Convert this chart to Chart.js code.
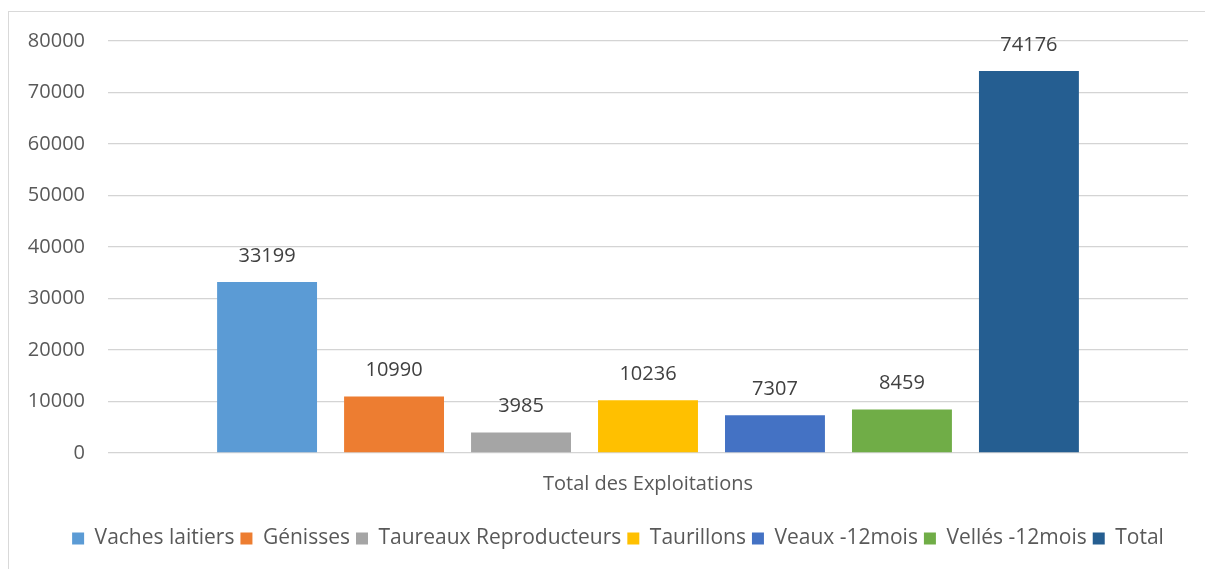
<!DOCTYPE html>
<html>
<head>
<meta charset="utf-8">
<script src="https://cdn.jsdelivr.net/npm/chart.js@4.4.1/dist/chart.umd.min.js"></script>
<style>
  body { margin: 0; background: #fff; }
  #wrap { position: relative; width: 1205px; height: 569px; overflow: hidden; }
  #frame { position: absolute; left: 8px; top: 11px; width: 1300px; height: 700px;
           border-left: 1px solid #d9d9d9; border-top: 1px solid #d9d9d9; pointer-events: none; }
  canvas { position: absolute; left: 0; top: 0; }
</style>
</head>
<body>
<div id="wrap">
  <canvas id="chart" width="1205" height="569"></canvas>
  <div id="frame"></div>
</div>
<script>
const categories = ['Total des Exploitations'];
const seriesNames = ['Vaches laitiers', 'Génisses', 'Taureaux Reproducteurs', 'Taurillons', 'Veaux -12mois', 'Vellés -12mois', 'Total'];
const seriesValues = [33199, 10990, 3985, 10236, 7307, 8459, 74176];
const seriesColors = ['#5b9bd5', '#ed7d31', '#a5a5a5', '#ffc000', '#4472c4', '#70ad47', '#255e91'];
const yTicks = [0, 10000, 20000, 30000, 40000, 50000, 60000, 70000, 80000];

const fontFamily = '"Open Sans", sans-serif';

// draws the value above each bar
const valueLabels = {
  id: 'valueLabels',
  afterDatasetsDraw(chart) {
    const ctx = chart.ctx;
    ctx.save();
    ctx.font = '20px ' + fontFamily;
    ctx.fillStyle = '#404040';
    ctx.textAlign = 'center';
    ctx.textBaseline = 'middle';
    chart.data.datasets.forEach((ds, i) => {
      chart.getDatasetMeta(i).data.forEach((bar, j) => {
        ctx.fillText(String(ds.data[j]), bar.x, bar.y - 26);
      });
    });
    ctx.restore();
  }
};

// legend sits a little right of the canvas centre in the original
const legendShift = {
  id: 'legendShift',
  afterLayout(chart) {
    chart.legend.left += 24;
    chart.legend.right += 24;
  }
};

new Chart(document.getElementById('chart'), {
  type: 'bar',
  data: {
    labels: categories,
    datasets: seriesNames.map((name, i) => ({
      label: name,
      data: [seriesValues[i]],
      backgroundColor: seriesColors[i],
      categoryPercentage: 0.823,
      barPercentage: 0.787
    }))
  },
  options: {
    responsive: false,
    animation: false,
    layout: { padding: { top: 41, right: 17, bottom: 10, left: 0 } },
    plugins: {
      legend: {
        position: 'bottom',
        labels: {
          boxWidth: 12,
          boxHeight: 12,
          padding: 6,
          color: '#595959',
          font: { family: fontFamily, size: 21 }
        }
      },
      tooltip: { enabled: false }
    },
    scales: {
      x: {
        grid: { display: false, drawTicks: false },
        border: { display: false },
        ticks: { color: '#595959', padding: 19, font: { family: fontFamily, size: 20 } },
        afterFit(scale) { scale.height = 69; }
      },
      y: {
        min: 0,
        max: 80000,
        grid: { color: '#d4d4d4', lineWidth: 1.3, drawTicks: false },
        border: { display: false },
        afterBuildTicks(scale) { scale.ticks = yTicks.map(v => ({ value: v })); },
        ticks: {
          color: '#595959',
          padding: 23,
          font: { family: fontFamily, size: 20 },
          callback: v => String(v)
        },
        afterFit(scale) { scale.width = 108; }
      }
    }
  },
  plugins: [valueLabels, legendShift]
});
</script>
</body>
</html>
